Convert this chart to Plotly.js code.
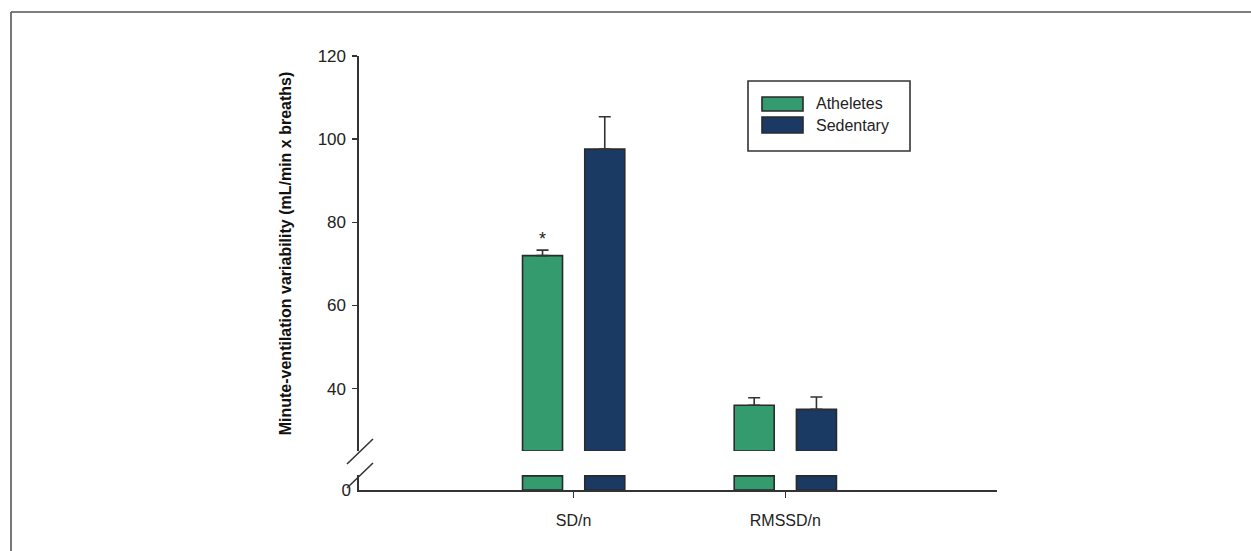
<!DOCTYPE html>
<html>
<head>
<meta charset="utf-8">
<script src="https://cdn.plot.ly/plotly-3.0.1.min.js"></script>
<style>
  html, body { margin: 0; padding: 0; background: #fff; }
  #chart { width: 1251px; height: 551px; }
</style>
</head>
<body>
<div id="chart"></div>
<script>
// ---- data ----
const categories = ['SD/n', 'RMSSD/n'];
const seriesNames = ['Atheletes', 'Sedentary'];
const atheletes = [72.0, 36.0];
const atheletesErr = [1.3, 1.8];
const sedentary = [97.6, 35.0];
const sedentaryErr = [7.8, 3.0];
const yTickVals = [40, 60, 80, 100, 120];
const yTickText = ['40', '60', '80', '100', '120'];
const significance = ['*', ''];

// ---- styling / layout constants ----
const colors = ['#349b6f', '#1a3a63'];
const outline = '#2a2a2a';
const breakLevel = 25;      // upper panel starts here
const lowerTop = 3.65;      // lower panel range max
const lowerStub = 3.4;      // height of the stub drawn under the break
const FONT = 'Liberation Sans, Arial, sans-serif';

const series = [
  {name: seriesNames[0], v: atheletes, e: atheletesErr, c: colors[0]},
  {name: seriesNames[1], v: sedentary, e: sedentaryErr, c: colors[1]}
];

const traces = [];
series.forEach(s => {
  // upper panel: from break level to value
  traces.push({
    type: 'bar', name: s.name, x: categories,
    y: s.v.map(v => v - breakLevel), base: breakLevel,
    xaxis: 'x', yaxis: 'y',
    marker: {color: s.c, line: {color: outline, width: 1.6}},
    error_y: {type: 'data', symmetric: false, array: s.e,
              arrayminus: s.e.map(() => 0), color: '#333', thickness: 1.6, width: 6},
    showlegend: false, hovertemplate: '%{x}: ' + '%{customdata}<extra>' + s.name + '</extra>',
    customdata: s.v
  });
  // lower panel: stub from 0
  traces.push({
    type: 'bar', name: s.name, x: categories,
    y: s.v.map(v => Math.min(v, lowerStub)),
    xaxis: 'x', yaxis: 'y2',
    marker: {color: s.c, line: {color: outline, width: 1.6}},
    showlegend: false, hoverinfo: 'skip'
  });
});

// plot area in pixels: left 359, right 997, top 56, bottom 490
const L = 359, R = 997, T = 56, B = 490;
const W = 1251, H = 551;
const pw = R - L, ph = B - T;
const px = x => (x - L) / pw;
const py = y => (B - y) / ph;

const shapes = [
  // break slashes
  {type: 'line', xref: 'paper', yref: 'paper', x0: px(347), y0: py(464), x1: px(373), y1: py(439),
   line: {color: '#333', width: 1.6}},
  {type: 'line', xref: 'paper', yref: 'paper', x0: px(347), y0: py(488), x1: px(373), y1: py(463),
   line: {color: '#333', width: 1.6}},
  // legend box
  {type: 'rect', xref: 'paper', yref: 'paper', x0: px(748), x1: px(910), y0: py(151), y1: py(81),
   line: {color: '#333', width: 1.6}, fillcolor: 'rgba(0,0,0,0)'},
  // legend swatches
  {type: 'rect', xref: 'paper', yref: 'paper', x0: px(762), x1: px(803), y0: py(111), y1: py(97),
   line: {color: outline, width: 1.6}, fillcolor: colors[0]},
  {type: 'rect', xref: 'paper', yref: 'paper', x0: px(762), x1: px(803), y0: py(133), y1: py(117),
   line: {color: outline, width: 1.6}, fillcolor: colors[1]},
  // image frame (top & left)
  {type: 'line', xref: 'paper', yref: 'paper', x0: px(11), y0: py(12), x1: px(1251), y1: py(12),
   line: {color: '#555', width: 1.6}},
  {type: 'line', xref: 'paper', yref: 'paper', x0: px(11), y0: py(12), x1: px(11), y1: py(551),
   line: {color: '#555', width: 1.6}}
];

const annotations = [
  {xref: 'paper', yref: 'paper', x: px(814), y: py(104), text: seriesNames[0], showarrow: false,
   xanchor: 'left', yanchor: 'middle', font: {family: FONT, size: 16, color: '#222'}},
  {xref: 'paper', yref: 'paper', x: px(814), y: py(125), text: seriesNames[1], showarrow: false,
   xanchor: 'left', yanchor: 'middle', font: {family: FONT, size: 16, color: '#222'}}
];
significance.forEach((t, i) => {
  if (!t) return;
  annotations.push({
    xref: 'x', yref: 'y', x: categories[i], y: atheletes[i] + atheletesErr[i],
    xshift: -31, yshift: -1, text: t, showarrow: false, yanchor: 'bottom',
    font: {family: FONT, size: 18, color: '#222'}
  });
});

const layout = {
  width: W, height: H,
  margin: {l: L, r: W - R, t: T, b: H - B, pad: 0},
  paper_bgcolor: '#fff', plot_bgcolor: 'rgba(0,0,0,0)',
  barmode: 'group', bargap: 0.412, bargroupgap: 0.357,
  showlegend: false,
  font: {family: FONT, size: 16, color: '#222'},
  xaxis: {
    domain: [0, 1], anchor: 'y2', range: [-1.014, 2.0],
    showline: true, linecolor: '#333', linewidth: 1.6,
    ticks: 'outside', ticklen: 6, tickwidth: 1.5, tickcolor: '#333',
    ticklabelstandoff: 9,
    showgrid: false, zeroline: false, fixedrange: true,
    tickfont: {family: FONT, size: 16, color: '#222'}
  },
  yaxis: {
    domain: [py(451), 1], anchor: 'x', range: [breakLevel, 120],
    tickvals: yTickVals, ticktext: yTickText,
    showline: true, linecolor: '#333', linewidth: 1.6,
    ticks: 'outside', ticklen: 5, tickwidth: 1.5, tickcolor: '#333',
    ticklabelstandoff: 3,
    showgrid: false, zeroline: false,
    tickfont: {family: FONT, size: 17, color: '#222'},
    title: {text: '<b>Minute-ventilation variability (mL/min x breaths)</b>',
            font: {family: FONT, size: 16, color: '#111'}, standoff: 22}
  },
  yaxis2: {
    domain: [0, py(474.8)], anchor: 'x', range: [0, lowerTop],
    tickvals: [0], ticktext: ['0'],
    showline: true, linecolor: '#333', linewidth: 1.6,
    ticks: '', showgrid: false, zeroline: false,
    ticklabelstandoff: 3,
    tickfont: {family: FONT, size: 17, color: '#222'}
  },
  shapes: shapes,
  annotations: annotations
};

Plotly.newPlot('chart', traces, layout, {displayModeBar: false, staticPlot: true});
</script>
</body>
</html>
